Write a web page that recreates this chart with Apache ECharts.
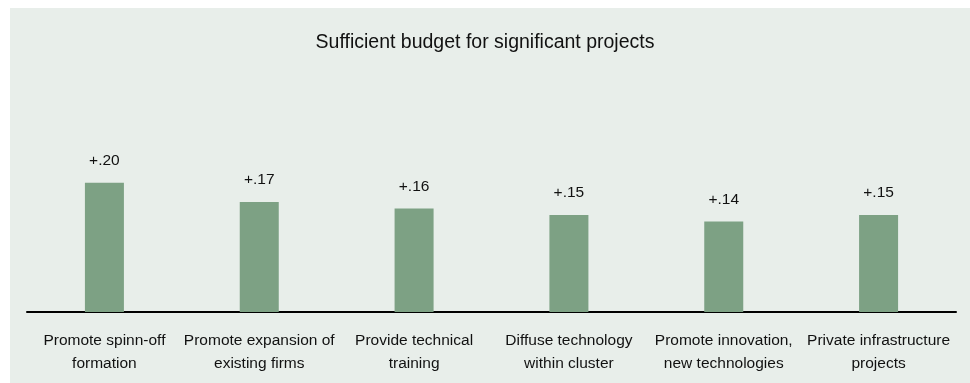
<!DOCTYPE html>
<html>
<head>
<meta charset="utf-8">
<title>Sufficient budget for significant projects</title>
<script src="https://cdn.jsdelivr.net/npm/echarts@6/dist/echarts.min.js"></script>
<style>
  html, body { margin: 0; padding: 0; background: #ffffff; }
  #chart { width: 970px; height: 383px; }
</style>
</head>
<body>
<div id="chart"></div>
<script>
// Policy goals and their effect on having sufficient budget
var categories = [
  'Promote spinn-off\nformation',
  'Promote expansion of\nexisting firms',
  'Provide technical\ntraining',
  'Diffuse technology\nwithin cluster',
  'Promote innovation,\nnew technologies',
  'Private infrastructure\nprojects'
];
var values = [0.20, 0.17, 0.16, 0.15, 0.14, 0.15];

var FONT = "'Liberation Sans', Arial, sans-serif";

var chart = echarts.init(document.getElementById('chart'), null, { renderer: 'canvas' });

chart.setOption({
  backgroundColor: '#ffffff',
  animation: false,
  graphic: [{
    type: 'rect',
    z: -10,
    silent: true,
    shape: { x: 10, y: 8, width: 960, height: 375 },
    style: { fill: '#e8eeea' }
  }],
  title: {
    text: 'Sufficient budget for significant projects',
    left: 'center',
    top: 28,
    textStyle: {
      fontFamily: FONT,
      fontSize: 19.5,
      fontWeight: 'normal',
      color: '#111111'
    }
  },
  grid: {
    left: 27,
    right: 14,
    top: 118,
    bottom: 71,
    containLabel: false
  },
  xAxis: {
    type: 'category',
    data: categories,
    axisLine: { show: true, lineStyle: { color: '#000000', width: 2 } },
    axisTick: { show: false },
    axisLabel: {
      interval: 0,
      margin: 17,
      fontFamily: FONT,
      fontSize: 15.5,
      lineHeight: 23,
      color: '#111111',
      align: 'center'
    }
  },
  yAxis: {
    type: 'value',
    min: 0,
    max: 0.3,
    show: false,
    splitLine: { show: false }
  },
  series: [{
    type: 'bar',
    data: values,
    barWidth: 39,
    itemStyle: { color: '#7da184' },
    label: {
      show: true,
      position: 'top',
      distance: 14,
      fontFamily: FONT,
      fontSize: 15.5,
      color: '#111111',
      formatter: function (p) {
        return '+' + p.value.toFixed(2).replace(/^0/, '');
      }
    }
  }]
});
</script>
</body>
</html>
